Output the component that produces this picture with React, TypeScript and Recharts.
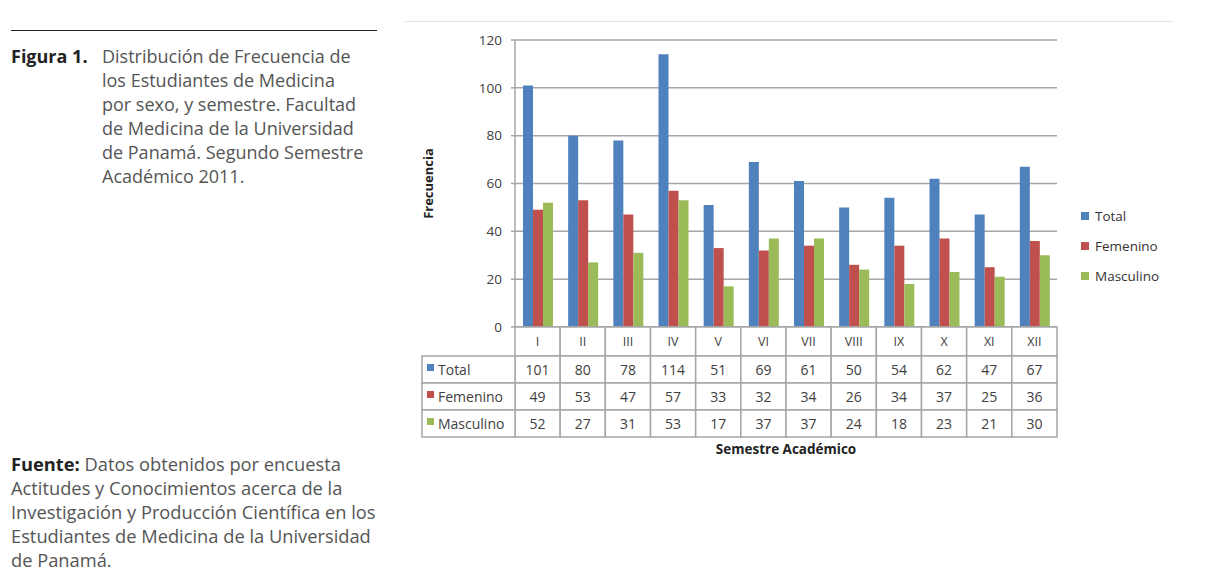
import { BarChart, Bar, XAxis, YAxis, CartesianGrid } from 'recharts';

const semestres = ['I', 'II', 'III', 'IV', 'V', 'VI', 'VII', 'VIII', 'IX', 'X', 'XI', 'XII'];
const total = [101, 80, 78, 114, 51, 69, 61, 50, 54, 62, 47, 67];
const femenino = [49, 53, 47, 57, 33, 32, 34, 26, 34, 37, 25, 36];
const masculino = [52, 27, 31, 53, 17, 37, 37, 24, 18, 23, 21, 30];
const yTicks = [0, 20, 40, 60, 80, 100, 120];

const series = [
  { key: 'total', name: 'Total', color: '#4f81bd', values: total },
  { key: 'femenino', name: 'Femenino', color: '#c0504d', values: femenino },
  { key: 'masculino', name: 'Masculino', color: '#9bbb59', values: masculino },
];

const data = semestres.map((s, i) => ({
  semestre: s,
  total: total[i],
  femenino: femenino[i],
  masculino: masculino[i],
}));

const W = 1208;
const H = 577;
const PLOT_LEFT = 515;
const PLOT_RIGHT = 1057;
const PLOT_TOP = 40;
const PLOT_BOTTOM = 327;
const BAND = (PLOT_RIGHT - PLOT_LEFT) / semestres.length;
const HEADER_H = 29;
const ROW_H = 27;
const LABEL_COL_W = 93;
const GRID = '#a6a6a6';
const TEXT = '#404040';
const FONT = '"Open Sans", "DejaVu Sans", sans-serif';

// one table column per category, placed by the x axis scale
function TableTick(props: any) {
  const { x, y, payload, index } = props;
  const left = x - BAND / 2;
  const cells = series.map((s, r) => {
    const top = y + HEADER_H + r * ROW_H;
    return (
      <g key={s.key}>
        <rect x={left} y={top} width={BAND} height={ROW_H} fill="#fff" stroke={GRID} strokeWidth={1.5} />
        <text x={x} y={top + ROW_H / 2 + 5} textAnchor="middle" fontSize={14} fill={TEXT}>
          {s.values[index]}
        </text>
      </g>
    );
  });
  const labelCol =
    index === 0
      ? series.map((s, r) => {
          const top = y + HEADER_H + r * ROW_H;
          const lx = left - LABEL_COL_W;
          return (
            <g key={'l' + s.key}>
              <rect x={lx} y={top} width={LABEL_COL_W} height={ROW_H} fill="#fff" stroke={GRID} strokeWidth={1.5} />
              <rect x={lx + 5} y={top + 8} width={7} height={7} fill={s.color} />
              <text x={lx + 16} y={top + ROW_H / 2 + 5} fontSize={14} fill={TEXT}>
                {s.name}
              </text>
            </g>
          );
        })
      : null;
  return (
    <g fontFamily={FONT}>
      <rect x={left} y={y} width={BAND} height={HEADER_H} fill="#fff" stroke={GRID} strokeWidth={1.5} />
      <text x={x} y={y + HEADER_H / 2 + 4.5} textAnchor="middle" fontSize={12.5} fill={TEXT}>
        {payload.value}
      </text>
      {cells}
      {labelCol}
    </g>
  );
}

function YTitle(props: any) {
  const vb = props.viewBox;
  const cx = vb.x + 13;
  const cy = vb.y + vb.height / 2;
  return (
    <text
      x={cx}
      y={cy}
      transform={`rotate(-90 ${cx} ${cy})`}
      textAnchor="middle"
      dominantBaseline="central"
      fontSize={13}
      fontWeight={700}
      fill="#222"
      fontFamily={FONT}
    >
      Frecuencia
    </text>
  );
}

export default function App() {
  return (
    <div style={{ position: 'absolute', left: 0, top: 0, width: W, height: H, background: '#fff', fontFamily: FONT }}>
      <div style={{ position: 'absolute', left: 11, top: 30, width: 366, height: 1, background: '#222' }} />
      <div style={{ position: 'absolute', left: 405, top: 21, width: 768, height: 1, background: '#e4e4e4' }} />
      <div style={{ position: 'absolute', left: 11, top: 44, fontSize: 18, lineHeight: '24px', color: '#555', display: 'flex' }}>
        <div style={{ width: 91, fontWeight: 700, color: '#222', whiteSpace: 'nowrap' }}>Figura 1.</div>
        <div style={{ width: 290, whiteSpace: 'nowrap' }}>
          Distribución de Frecuencia de
          <br />
          los Estudiantes de Medicina
          <br />
          por sexo, y semestre. Facultad
          <br />
          de Medicina de la Universidad
          <br />
          de Panamá. Segundo Semestre
          <br />
          Académico 2011.
        </div>
      </div>
      <div style={{ position: 'absolute', left: 11, top: 452, width: 400, fontSize: 18.3, lineHeight: '24px', color: '#555', whiteSpace: 'nowrap' }}>
        <b style={{ color: '#222' }}>Fuente:</b> Datos obtenidos por encuesta
        <br />
        Actitudes y Conocimientos acerca de la
        <br />
        Investigación y Producción Científica en los
        <br />
        Estudiantes de Medicina de la Universidad
        <br />
        de Panamá.
      </div>
      <div style={{ position: 'absolute', left: 0, top: 0 }}>
        <BarChart
          width={W}
          height={H}
          data={data}
          barGap={0}
          barSize={10}
          margin={{ top: PLOT_TOP, right: W - PLOT_RIGHT, bottom: 0, left: 415 }}
        >
          <CartesianGrid vertical={false} stroke={GRID} strokeWidth={1.5} />
          <XAxis
            dataKey="semestre"
            height={H - PLOT_BOTTOM}
            tickSize={0}
            tickMargin={0}
            axisLine={{ stroke: GRID, strokeWidth: 1.5 }}
            tickLine={false}
            tick={<TableTick />}
            interval={0}
            label={{
              value: 'Semestre Académico',
              position: 'insideTop',
              offset: 117,
              fontSize: 13.5,
              fontWeight: 700,
              fill: '#222',
              fontFamily: FONT,
            }}
          />
          <YAxis
            width={PLOT_LEFT - 415}
            domain={[0, 120]}
            ticks={yTicks}
            tickSize={4}
            tickMargin={9}
            axisLine={{ stroke: GRID, strokeWidth: 1.5 }}
            tickLine={{ stroke: GRID, strokeWidth: 1.5 }}
            tick={{ fontSize: 13.5, fill: TEXT, fontFamily: FONT }}
            label={<YTitle />}
          />
          {series.map((s) => (
            <Bar key={s.key} dataKey={s.key} name={s.name} fill={s.color} isAnimationActive={false} />
          ))}
        </BarChart>
      </div>
      <div style={{ position: 'absolute', left: 1081, top: 201, fontSize: 13.5, color: '#333' }}>
        {series.map((s) => (
          <div key={s.key} style={{ display: 'flex', alignItems: 'center', height: 30 }}>
            <span style={{ width: 8, height: 8, background: s.color, marginRight: 6, display: 'inline-block' }} />
            {s.name}
          </div>
        ))}
      </div>
    </div>
  );
}
